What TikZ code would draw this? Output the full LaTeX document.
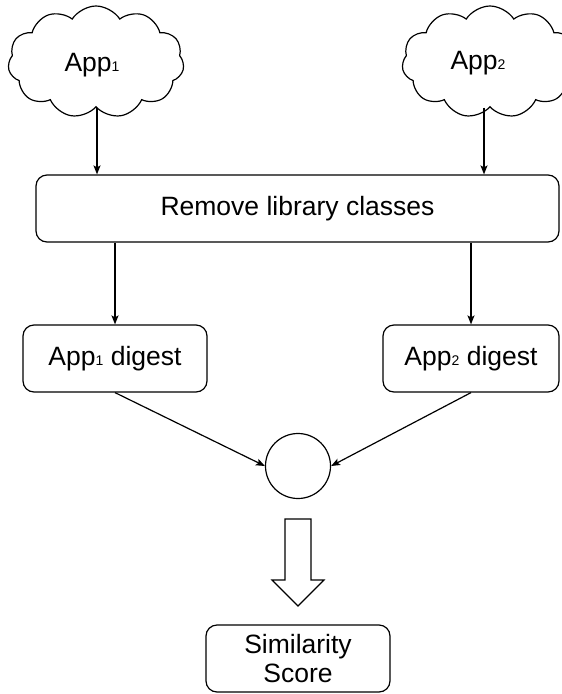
\documentclass[tikz,border=0pt]{standalone}
\usepackage{fontspec}
\setmainfont{Liberation Sans}
\usetikzlibrary{shapes.symbols,arrows.meta}
\newcommand\subdig[1]{\raisebox{-0.5pt}{\fontsize{14}{14}\selectfont #1}}
\begin{document}
\begin{tikzpicture}[x=1pt,y=-1pt,
  line width=1.2pt,
  every node/.style={font=\fontsize{26.5}{30}\selectfont},
  puff/.style={cloud, draw, cloud puffs=11, cloud puff arc=115, aspect=1.6,
    minimum width=176pt, minimum height=112pt, inner sep=0pt},
  box/.style={draw, rectangle, rounded corners=11pt, minimum height=67pt,
    inner sep=0pt, align=center},
  arr/.style={-{Stealth[length=9pt,width=7pt,inset=2pt]}}]
\useasboundingbox (0,0) rectangle (562,694);
% sources
\node[puff] (c1) at (96,62) {};
\node at (92,65) {App\subdig{1}};
\node[puff] (c2) at (490,62) {};
\node at (478,63) {App\subdig{2}};
% processing steps
\node[box, minimum width=523pt] (rm) at (297.5,208.5) {Remove library classes};
\node[box, minimum width=184pt] (d1) at (115,358.5) {App\subdig{1} digest};
\node[box, minimum width=176pt] (d2) at (471,358.5) {App\subdig{2} digest};
\node[circle, draw, minimum size=65pt, inner sep=0pt] (cmp) at (298,466) {};
\node[box, minimum width=184pt, font=\fontsize{26.5}{29}\selectfont] (score) at (298,658.5) {Similarity\\Score};
% connectors
\draw[arr] (c1.south -| 97,0) -- (97,0 |- rm.north);
\draw[arr] (c2.south -| 484,0) -- (484,0 |- rm.north);
\draw[arr] (rm.south -| d1.north) -- (d1.north);
\draw[arr] (rm.south -| d2.north) -- (d2.north);
\draw[arr] (d1.south) -- (cmp.west);
\draw[arr] (d2.south) -- (cmp.east);
% hollow block arrow towards the score
\draw[line join=miter] (285,519) -- (311,519) -- (311,580) -- (324,580) -- (298,606)
  -- (272,580) -- (285,580) -- cycle;
\end{tikzpicture}
\end{document}
